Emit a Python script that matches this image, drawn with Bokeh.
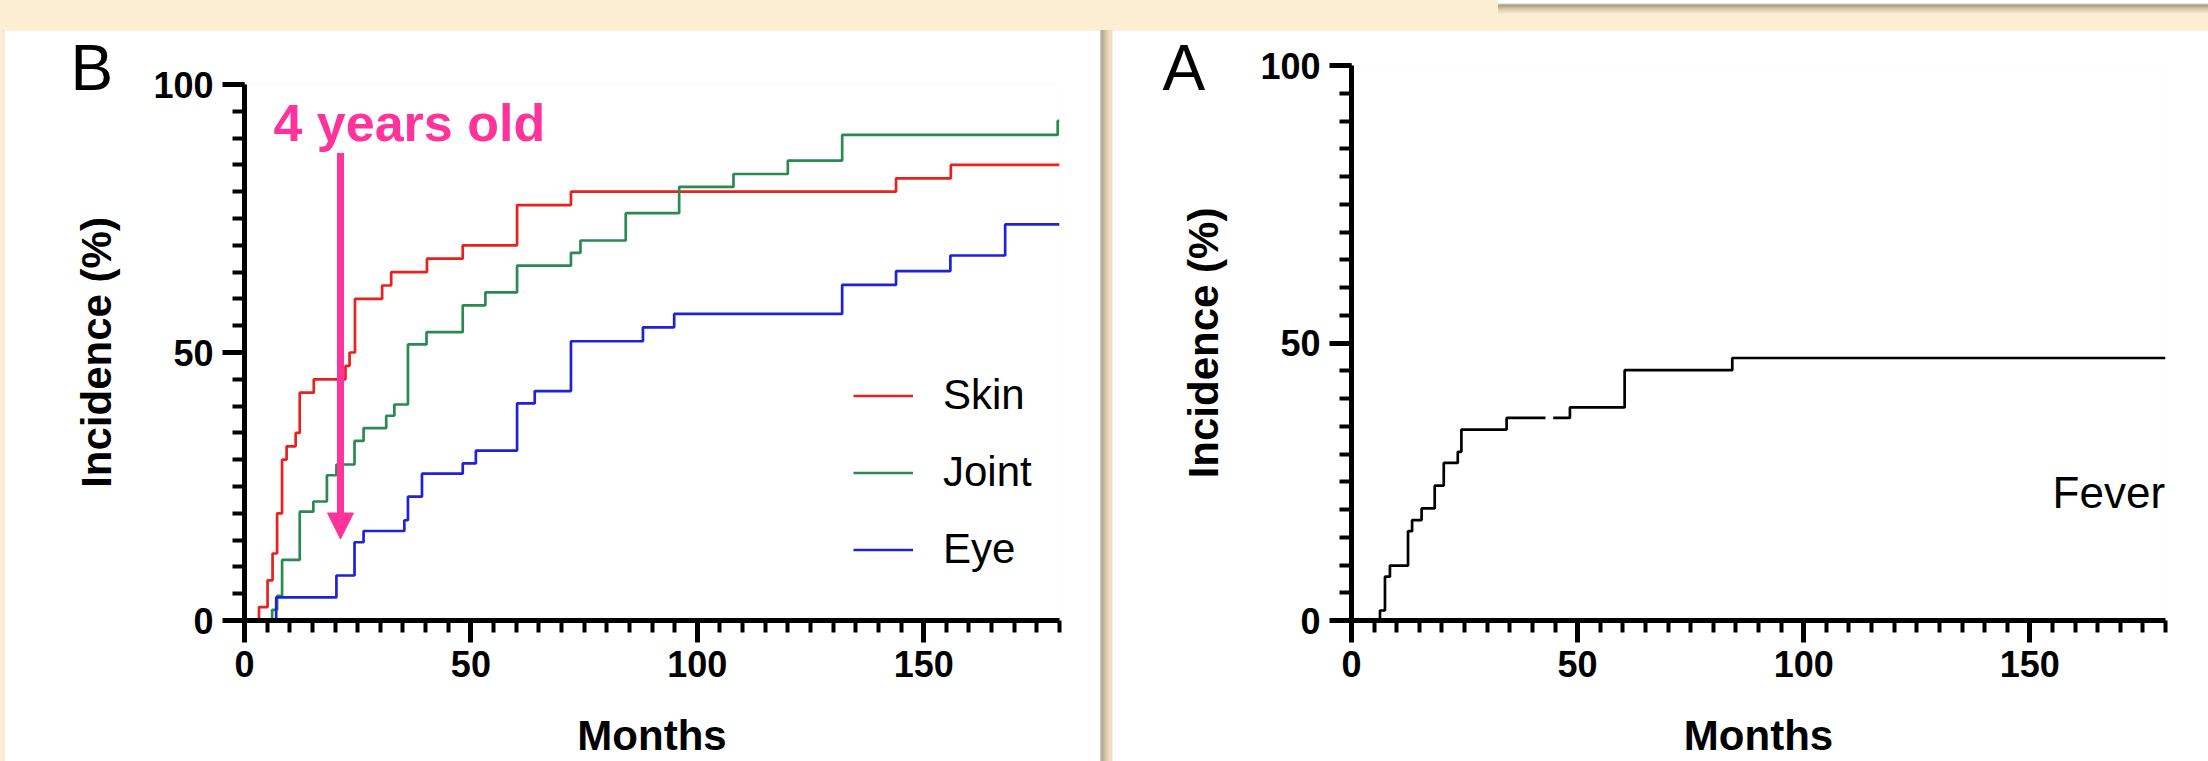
import numpy as np
from bokeh.plotting import figure
from bokeh.models import (SingleIntervalTicker, Label, Legend, LegendItem, Arrow,
                          NormalHead, Spacer, Range1d)
from bokeh.layouts import row, column
from bokeh.embed import file_html
from bokeh.resources import INLINE

# ---------------- data (months, cumulative incidence %) ----------------
skin_months = [0, 3.2, 5.1, 6.2, 7.2, 8.3, 9.3, 11.3, 12.2, 15.3, 22.3, 23.2, 24.4,
               30.4, 32.4, 40.3, 48.2, 60.2, 72.1, 143.9, 156.0, 180]
skin_pct = [0, 2.5, 7.5, 12.5, 20, 30, 32.5, 35, 42.5, 45, 47.5, 50, 60,
            62.5, 65, 67.5, 70, 77.5, 80, 82.5, 85, 85]

joint_months = [0, 6.1, 7.2, 8.3, 12.2, 15.2, 18.2, 20.3, 24.3, 26.3, 31.3, 33.1, 36.1,
                40.2, 48.2, 53.2, 60.2, 72.1, 74.2, 84.2, 96.0, 108.0, 120.0, 132.0,
                179.6, 180]
joint_pct = [0, 2.0, 4.6, 11.3, 20.3, 22.2, 27.1, 29.1, 33.5, 35.9, 38.2, 40.3, 51.5,
             53.8, 58.8, 61.2, 66.2, 68.6, 70.9, 76.0, 80.9, 83.3, 85.8, 90.6,
             93.2, 93.2]

eye_months = [0, 7.0, 20.3, 24.3, 26.3, 35.3, 36.1, 39.2, 48.2, 51.1, 60.2, 64.1, 72.1,
              88.0, 94.9, 132.0, 143.9, 155.9, 168.0, 180]
eye_pct = [0, 4.3, 8.4, 14.6, 16.7, 18.7, 23.1, 27.4, 29.3, 31.7, 40.5, 42.8, 52.1,
           54.7, 57.2, 62.6, 65.2, 68.1, 73.9, 73.9]

# NaN marks the short break (censoring) in the fever curve
fever_months = [0, 6.3, 7.4, 8.5, 12.5, 13.4, 15.5, 18.4, 20.4, 23.5, 24.3, 34.3,
                42.9, 43.0, 44.6, 48.3, 60.4, 84.2, 180]
fever_pct = [0, 1.8, 7.9, 9.9, 16.1, 18.1, 20.2, 24.3, 28.4, 30.4, 34.4, 36.5,
             36.5, float("nan"), 36.5, 38.4, 45.1, 47.3, 47.3]

series_names = ["Skin", "Joint", "Eye"]

# annotation values
arrow_month = 21.2
arrow_from = 87.2
arrow_to = 15.2
note_text = "4 years old"

BEIGE = "#FCEED2"
PINK = "#FF3399"
FONT = "Liberation Sans"
RED = "#E8201E"
GREEN = "#2A8A52"
BLUE = "#1E22D8"
H = 731


def make_fig(width, height, left, right, top):
    p = figure(width=width, height=height, x_range=Range1d(0, 180), y_range=Range1d(0, 100),
               output_backend="svg", toolbar_location=None,
               min_border_left=left, min_border_right=right,
               min_border_top=top, min_border_bottom=138)
    p.background_fill_color = "white"
    p.border_fill_color = "white"
    p.outline_line_color = None
    p.grid.visible = False
    p.xaxis.ticker = SingleIntervalTicker(interval=50, num_minor_ticks=10)
    p.yaxis.ticker = SingleIntervalTicker(interval=50, num_minor_ticks=10)
    for ax in (p.xaxis[0], p.yaxis[0]):
        ax.axis_line_width = 5
        ax.axis_line_color = "black"
        ax.major_tick_line_width = 5
        ax.minor_tick_line_width = 4
        ax.major_tick_in = 0
        ax.minor_tick_in = 0
        ax.major_tick_out = 22
        ax.minor_tick_out = 12
        ax.major_label_text_font = FONT
        ax.major_label_text_font_size = "36px"
        ax.major_label_text_font_style = "bold"
        ax.major_label_text_color = "black"
        ax.axis_label_text_font = FONT
        ax.axis_label_text_font_size = "42px"
        ax.axis_label_text_font_style = "bold"
        ax.axis_label_text_color = "black"
    p.xaxis.major_label_standoff = 8
    p.yaxis.major_label_standoff = 9
    p.xaxis.axis_label = "Months"
    p.xaxis.axis_label_standoff = 32
    p.yaxis.axis_label = "Incidence (%)"
    p.yaxis.axis_label_standoff = 30
    return p


def panel_letter(p, text, cx, cy):
    # placed in the left side panel (not clipped to the frame), canvas coordinates
    lab = Label(x=cx, y=cy, x_units="canvas", y_units="canvas", text=text, text_font=FONT,
                text_font_size="64px", text_color="black", text_baseline="top")
    p.add_layout(lab, "left")


# ---------------- left chart (B) ----------------
p1 = make_fig(1096, H, 240, 41, 54)
r_skin = p1.step(skin_months, skin_pct, mode="after", line_color=RED, line_width=2.7)
r_joint = p1.step(joint_months, joint_pct, mode="after", line_color=GREEN, line_width=2.7)
r_eye = p1.step(eye_months, eye_pct, mode="after", line_color=BLUE, line_width=2.7)

legend = Legend(items=[LegendItem(label=n, renderers=[r]) for n, r in
                       zip(series_names, [r_skin, r_joint, r_eye])],
                location=(609, 47), orientation="vertical",
                glyph_width=60, glyph_height=43, label_height=43, spacing=29,
                padding=0, margin=0, label_standoff=30,
                border_line_color=None, background_fill_alpha=0,
                label_text_font=FONT, label_text_font_size="42px",
                label_text_color="black")
p1.add_layout(legend)

p1.add_layout(Arrow(end=NormalHead(size=26, fill_color=PINK, line_color=PINK, line_width=1),
                    x_start=arrow_month, y_start=arrow_from,
                    x_end=arrow_month, y_end=arrow_to,
                    line_color=PINK, line_width=7))
p1.add_layout(Label(x=6.4, y=92.8, text=note_text, text_font=FONT, text_font_size="52px",
                    text_font_style="bold", text_color=PINK, text_baseline="alphabetic"))
panel_letter(p1, "B", 66, 1)

# ---------------- right chart (A) ----------------
p2 = make_fig(1096, H, 239, 43, 35)
p2.step(fever_months, fever_pct, mode="after", line_color="black", line_width=2.7)
p2.add_layout(Label(x=179.9, y=23.0, text="Fever", text_font=FONT, text_font_size="44px",
                    text_color="black", text_align="right", text_baseline="alphabetic"))
panel_letter(p2, "A", 50, 1)

top_left = Spacer(width=1498, height=30)
top_right = Spacer(width=710, height=30,
                   styles={"background": "linear-gradient(to bottom, #ffffff 0px, #ffffff 3px, #cfcfcf 4px, #a89c86 5px, #d9c9aa 9px, #fcEED2 14px)"})
edge = Spacer(width=4, height=H,
              styles={"background": "linear-gradient(to right, #fcEED2 0px, #fcEED2 3px, #d8d8d8 4px)"})
gap = Spacer(width=12, height=H,
             styles={"background": "linear-gradient(to right, #d0d0d0 0px, #b5a78e 2px, #e9d8b6 8px, #f4e4c4 11px, #d6d6d6 12px)"})
layout = column(row(top_left, top_right, spacing=0),
                row(edge, column(p1), gap, column(p2), spacing=0), spacing=0, width=2208, height=761,
                styles={"background-color": BEIGE})

open("out.html", "w").write(file_html(layout, INLINE))
